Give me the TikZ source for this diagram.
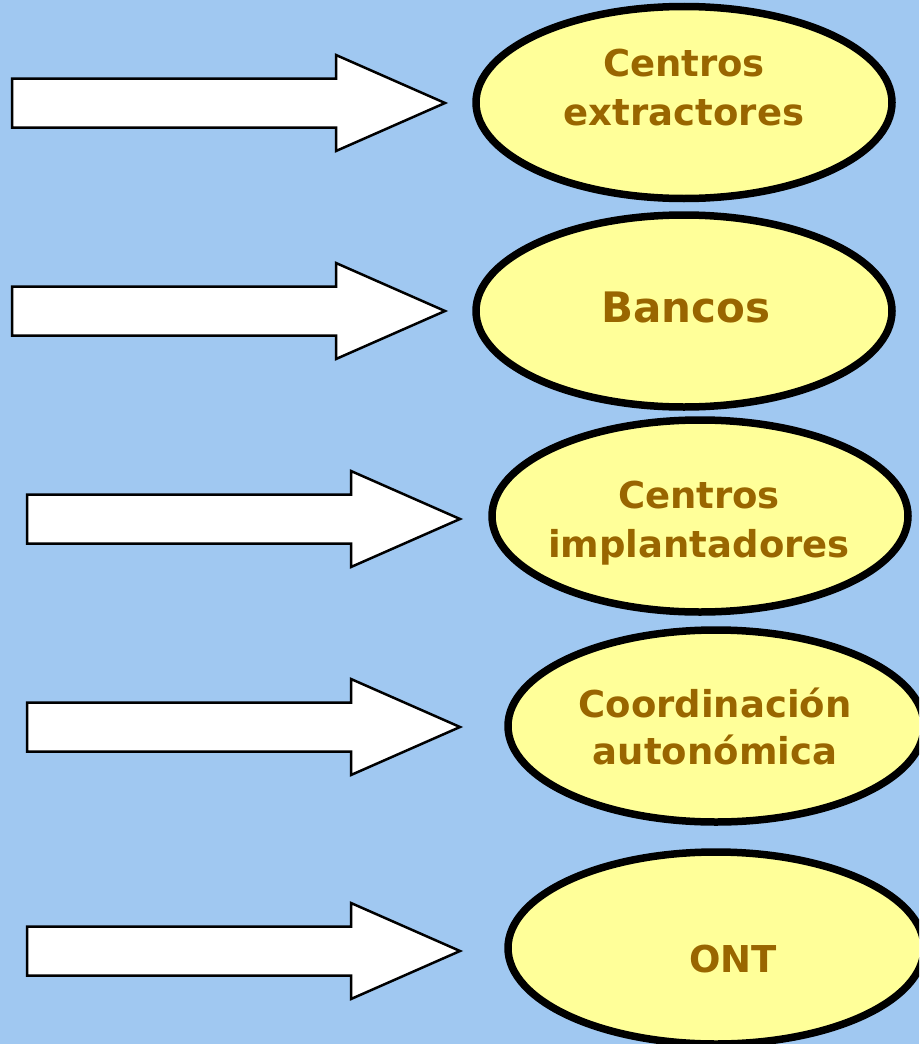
\documentclass[tikz,border=0pt]{standalone}
\usepackage{fontspec}
\setmainfont{DejaVu Sans}
\usetikzlibrary{shapes.geometric}
\definecolor{bgblue}{HTML}{A0C8F1}
\definecolor{ovalfill}{HTML}{FFFF99}
\definecolor{txtbrown}{HTML}{996600}
\tikzset{
  oval/.style={ellipse, draw=black, line width=7.5pt, fill=ovalfill, minimum width=416pt, minimum height=192pt, inner sep=0pt},
  lbl/.style={anchor=base, text=txtbrown, font=\fontsize{37}{48}\selectfont\bfseries, align=center, inner sep=0pt},
  blockarrow/.pic={\draw[black, line width=2.5pt, fill=white, line join=miter]
      (0,-24.5) -- (324,-24.5) -- (324,-48) -- (433,0) -- (324,48) -- (324,24.5) -- (0,24.5) -- cycle;}
}
\begin{document}
\begin{tikzpicture}[x=1pt,y=-1pt]
\useasboundingbox (0,0) rectangle (919,1044);
\clip (0,0) rectangle (919,1044);
\fill[bgblue] (0,0) rectangle (919,1044);
% arrows
\pic (a1) at (12,103) {blockarrow};
\pic (a2) at (12,311) {blockarrow};
\pic (a3) at (27,519) {blockarrow};
\pic (a4) at (27,727) {blockarrow};
\pic (a5) at (27,951) {blockarrow};
% ovals
\node[oval] (o1) at (684,102.5) {};
\node[oval] (o2) at (684,311) {};
\node[oval] (o3) at (700,516) {};
\node[oval] (o4) at (716,726) {};
\node[oval] (o5) at (716,948) {};
% labels
\node[lbl] (t1a) at (684,76) {Centros};
\node[lbl] (t1b) at (684,125) {extractores};
\node[lbl, font=\fontsize{42}{50}\selectfont\bfseries] (t2) at (686,322) {Bancos};
\node[lbl] (t3a) at (699,508) {Centros};
\node[lbl] (t3b) at (699,557) {implantadores};
\node[lbl] (t4a) at (715,717) {Coordinación};
\node[lbl] (t4b) at (715,764) {autonómica};
\node[lbl] (t5) at (733,972) {ONT};
\end{tikzpicture}
\end{document}
